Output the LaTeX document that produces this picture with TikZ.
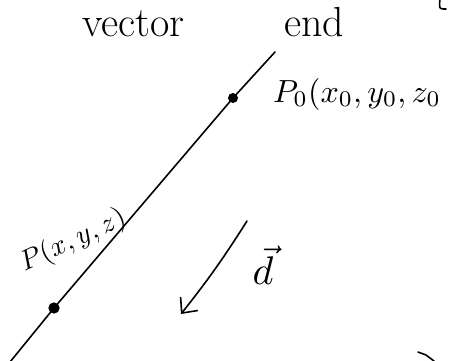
\documentclass[tikz,border=0pt]{standalone}
\usepackage{graphicx}
\usetikzlibrary{arrows.meta}
\begin{document}
\begin{tikzpicture}[x=1pt,y=-1pt,
  ink/.style={line width=1.6pt, line cap=round, line join=round},
  txt/.style={inner sep=0pt, anchor=base west},
  dotfill/.style={circle, fill, inner sep=0pt, minimum size=10pt},
  dotring/.style={circle, draw, fill, line width=1.2pt, inner sep=0pt, minimum size=10pt}]
\useasboundingbox (0,0) rectangle (458,360);
% header words
\node[txt, font=\fontsize{42}{46}\selectfont] (vec) at (82,36) {vector};
\node[txt, font=\fontsize{42}{46}\selectfont] (endw) at (284,36) {end};
% line with points
\coordinate (top) at (275,52);
\coordinate (bot) at (10,362);
\node[dotfill] (p0) at (233,98) {};
\node[dotring] (p) at (54,308) {};
\draw[ink] (top) -- (p0.center) -- (p.center) -- (bot);
% labels
\node[txt] (p0lbl) at (273,102) {\scalebox{3.2}{$P_0(x_0, y_0, z_0$}};
\node[inner sep=0pt, rotate=25] (plbl) at (73,241) {\scalebox{2.8}{$P(x,y,z)$}};
% direction vector
\coordinate (as) at (247,221);
\coordinate (ae) at (181,314);
\draw[ink, -{Straight Barb[length=12pt,width=22pt,line width=1.6pt]}] (as) to[bend left=3] (ae);
\node[inner sep=0pt] (dlbl) at (263,265) {\scalebox{4}{$\vec{d}$}};
% fragments at the edges
\draw[ink] (440,-1) .. controls (439,9) .. (446,9);
\draw[ink] (418,352) -- (426,355) -- (434,361);
\end{tikzpicture}
\end{document}
